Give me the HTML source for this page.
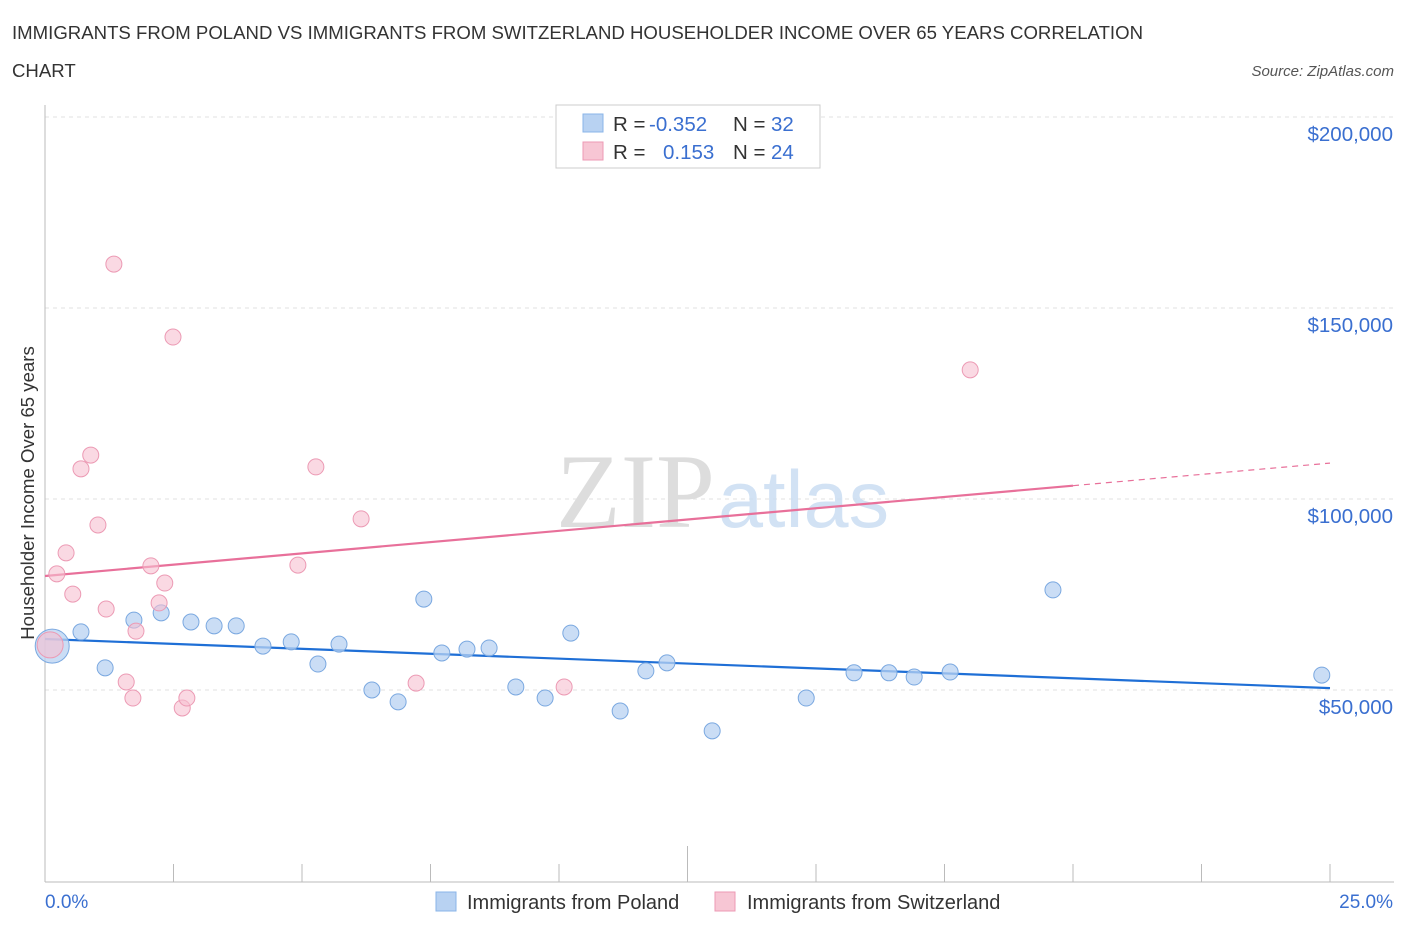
<!DOCTYPE html>
<html><head><meta charset="utf-8"><style>
body{margin:0;background:#fff;font-family:"Liberation Sans",sans-serif;}
svg text{font-family:"Liberation Sans",sans-serif;}
</style></head><body>
<svg width="1406" height="930" viewBox="0 0 1406 930">
<text x="12" y="39" font-size="18.6" fill="#333" textLength="1131">IMMIGRANTS FROM POLAND VS IMMIGRANTS FROM SWITZERLAND HOUSEHOLDER INCOME OVER 65 YEARS CORRELATION</text>
<text x="12" y="77" font-size="18.6" fill="#333">CHART</text>
<text x="1394" y="76" font-size="15" fill="#555" font-style="italic" text-anchor="end">Source: ZipAtlas.com</text>
<g id="grid"></g>
<g><text x="715" y="527" font-size="106" font-family="Liberation Serif" fill="#ddd" text-anchor="end" style="font-family:'Liberation Serif',serif">ZIP</text><text x="718" y="527" font-size="81" fill="#c8dcf2" opacity="0.8">atlas</text></g>
<line x1="45" y1="105" x2="45" y2="882" stroke="#bbb"/>
<line x1="45" y1="882" x2="1394" y2="882" stroke="#bbb"/>
<g id="xticks"></g>
<g id="ylabels"></g>
<text transform="translate(34,493) rotate(-90)" font-size="18.6" fill="#333" text-anchor="middle">Householder Income Over 65 years</text>
<text x="45" y="908" font-size="19" fill="#3a6fd0">0.0%</text>
<text x="1393" y="908" font-size="19" fill="#3a6fd0" text-anchor="end">25.0%</text>
<g id="lines"></g>
<g id="pts"></g>
<g>
<rect x="556" y="105" width="264" height="63" fill="#fff" stroke="#ccc"/>
<rect x="583" y="114" width="20" height="18" fill="#b8d2f2" stroke="#8ab4e8"/>
<rect x="583" y="142" width="20" height="18" fill="#f7c6d4" stroke="#ec9ab4"/>
<text x="613" y="131" font-size="20.5" fill="#333">R = <tspan x="649" fill="#3a6fd0">-0.352</tspan><tspan x="733">N = </tspan><tspan x="771" fill="#3a6fd0">32</tspan></text>
<text x="613" y="159" font-size="20.5" fill="#333">R = <tspan x="663" fill="#3a6fd0">0.153</tspan><tspan x="733">N = </tspan><tspan x="771" fill="#3a6fd0">24</tspan></text>
</g>
<g>
<rect x="436" y="892" width="20" height="19" fill="#b8d2f2" stroke="#8ab4e8"/>
<text x="467" y="909" font-size="20" fill="#333">Immigrants from Poland</text>
<rect x="715" y="892" width="20" height="19" fill="#f7c6d4" stroke="#ec9ab4"/>
<text x="747" y="909" font-size="20" fill="#333">Immigrants from Switzerland</text>
</g>
</svg>
<script>
const polandX=[0.14,0.70,1.17,1.73,2.26,2.84,3.29,3.72,4.24,4.79,5.31,5.72,6.36,6.87,7.37,7.72,8.21,8.64,9.16,9.73,10.23,11.19,11.69,12.10,12.98,14.81,15.74,16.42,16.91,17.61,19.61,24.84];
const polandY=[61500,65200,55800,68300,70200,67800,66800,66800,61500,62600,56800,62000,50000,46900,73800,59700,60700,61000,50800,47900,64900,44500,55000,57100,39300,47900,54500,54500,53400,54700,76200,53900];
const swissX=[0.10,0.23,0.41,0.54,0.70,0.89,1.03,1.19,1.34,1.58,1.71,1.77,2.06,2.22,2.33,2.49,2.67,2.76,4.92,5.27,6.15,7.22,10.10,18.00];
const swissY=[61800,80400,85900,75100,107900,111500,93200,71200,161500,52100,47900,65400,82500,72800,78000,142400,45300,47900,82700,108400,94800,51800,50800,133800];
const yTicks=[50000,100000,150000,200000];
const yTickLabels=["$50,000","$100,000","$150,000","$200,000"];
const xTicks=[0,2.5,5,7.5,10,12.5,15,17.5,20,22.5,25];
const polandTrend=[63350,50500];
const swissTrend=[79850,109400];
const NS="http://www.w3.org/2000/svg";
const sx=p=>45+p*51.4;
const sy=v=>690-(v-50000)*191/50000;
function mk(tag,attrs,parent){const e=document.createElementNS(NS,tag);for(const k in attrs)e.setAttribute(k,attrs[k]);document.getElementById(parent).appendChild(e);return e;}
yTicks.forEach((v,i)=>{
 const l=mk('line',{x1:45,x2:1394,y1:sy(v),y2:sy(v),stroke:'#e2e2e2','stroke-dasharray':'4,4'},'grid');
 
 
 const t=mk('text',{x:1393,y:sy(v)+24,'font-size':20.5,fill:'#3a6fd0','text-anchor':'end'},'ylabels');
 t.textContent=yTickLabels[i];
 
 
});
xTicks.forEach((p,i)=>{
 const l=mk('line',{x1:sx(p),x2:sx(p),y1:(i==5?846:864),y2:882,stroke:'#bbb'},'xticks');
 
 
});
let l=mk('line',{x1:sx(0),y1:sy(polandTrend[0]),x2:sx(25),y2:sy(polandTrend[1]),stroke:'#1f6fd6','stroke-width':2.2},'lines');


const s20=swissTrend[0]+(swissTrend[1]-swissTrend[0])*0.8;
l=mk('line',{x1:sx(0),y1:sy(swissTrend[0]),x2:sx(20),y2:sy(s20),stroke:'#e8709a','stroke-width':2.2},'lines');


l=mk('line',{x1:sx(20),y1:sy(s20),x2:sx(25),y2:sy(swissTrend[1]),stroke:'#e8709a','stroke-width':1.2,'stroke-dasharray':'6,5'},'lines');


polandX.forEach((p,i)=>{
 const c=mk('circle',{cx:sx(p),cy:sy(polandY[i]),r:i==0?17:8,fill:'#b8d2f2','fill-opacity':0.75,stroke:'#7aa8e0','stroke-width':1},'pts');
 
 
});
swissX.forEach((p,i)=>{
 const c=mk('circle',{cx:sx(p),cy:sy(swissY[i]),r:i==0?13:8,fill:'#f7c0d0','fill-opacity':0.6,stroke:'#ec9ab4','stroke-width':1},'pts');
 
 
});
</script>
</body></html>
